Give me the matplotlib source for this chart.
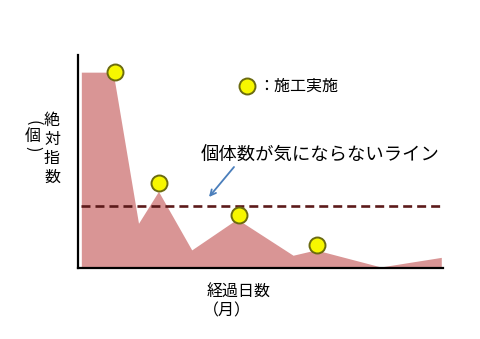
import matplotlib
matplotlib.use('Agg')
import matplotlib.pyplot as plt
from matplotlib.lines import Line2D

plt.rcParams['font.family'] = ['Noto Sans CJK JP', 'DejaVu Sans']

FILL = '#d99595'
LINE = '#5c1a1a'
MARK = '#f7f700'
MARK_EDGE = '#6b6b10'
ARROW = '#4a7ebb'

# population curve (months, relative index)
months = [0.05, 1.1, 1.94, 2.6, 3.7, 5.2, 7.05, 7.8, 9.95, 11.95]
index = [92, 92, 21, 36, 8.5, 23, 6, 8.5, 0.5, 5]

# treatment timings
treat_x = [1.15, 2.63, 5.26, 7.83]
treat_y = [92, 40, 25, 11]

threshold = 29

fig = plt.figure(figsize=(4.8, 3.39), dpi=100)
fig.patch.set_facecolor('white')
ax = fig.add_axes([0.1625, 0.2094, 0.760, 0.628])

ax.fill_between(months, index, 0, color=FILL, linewidth=0, zorder=1)
ax.plot([months[0], months[-1]], [threshold, threshold], color=LINE, lw=1.9,
        dashes=(3.4, 1.9), zorder=2)
ax.plot(treat_x, treat_y, 'o', ms=11.5, mfc=MARK, mec=MARK_EDGE, mew=1.4,
        zorder=3, clip_on=False)

ax.set_xlim(-0.06, 12)
ax.set_ylim(0, 100)
ax.set_xticks([])
ax.set_yticks([])
ax.spines[['top', 'right']].set_visible(False)
for s in ['left', 'bottom']:
    ax.spines[s].set_linewidth(1.6)
    ax.spines[s].set_color('black')

# legend
handle = Line2D([], [], marker='o', ls='none', ms=11.5, mfc=MARK, mec=MARK_EDGE, mew=1.4)
ax.legend([handle], ['：施工実施'], loc='center left', bbox_to_anchor=(0.42, 0.852),
          frameon=False, fontsize=11.5, handletextpad=0.2, borderpad=0, handlelength=1.0)

# threshold annotation
fig.text(320 / 480, 1 - 155 / 339, '個体数が気にならないライン', ha='center', va='center',
         fontsize=13.2)
ax.annotate('', xy=(209, 142), xycoords='figure pixels',
            xytext=(234, 172), textcoords='figure pixels',
            arrowprops=dict(arrowstyle='->', color=ARROW, lw=1.3, shrinkA=0, shrinkB=0))

# axis labels
fig.text(52 / 480, 1 - 149 / 339, '絶\n対\n指\n数', ha='center', va='center', fontsize=11.5,
         linespacing=1.15)
fig.text(33 / 480, 1 - 123 / 339, '(', ha='center', va='center', fontsize=11.5, rotation=-90)
fig.text(33 / 480, 1 - 136 / 339, '個', ha='center', va='center', fontsize=11.5)
fig.text(33 / 480, 1 - 149 / 339, ')', ha='center', va='center', fontsize=11.5, rotation=-90)
fig.text(239 / 480, 1 - 292 / 339, '経過日数', ha='center', va='center', fontsize=11.5)
fig.text(227 / 480, 1 - 311 / 339, '（月）', ha='center', va='center', fontsize=11.5)

fig.savefig('out.png', dpi=100, facecolor='white')
